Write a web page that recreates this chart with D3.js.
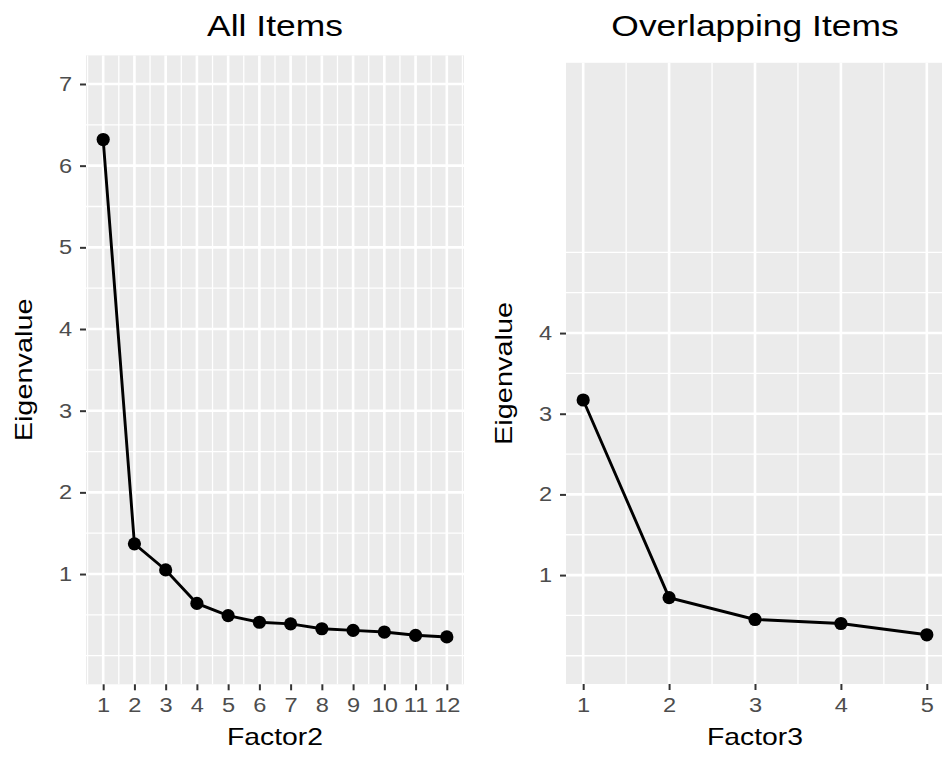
<!DOCTYPE html>
<html>
<head>
<meta charset="utf-8">
<script src="https://cdn.jsdelivr.net/npm/d3@7"></script>
<style>
  body { margin: 0; background: #fff; }
  text { font-family: "Liberation Sans", Arial, sans-serif; }
</style>
</head>
<body>
<div id="chart"></div>
<script>
const svgWidth = 942;
const svgHeight = 764;

// the source image is a little wider than tall, so text runs long
const stretch = 1.18;

// values
const allFactors = [1, 2, 3, 4, 5, 6, 7, 8, 9, 10, 11, 12];
const allEigen = [6.32, 1.37, 1.05, 0.64, 0.49, 0.41, 0.39, 0.33, 0.31, 0.29, 0.25, 0.23];
const allYTicks = [1, 2, 3, 4, 5, 6, 7];

const overlapFactors = [1, 2, 3, 4, 5];
const overlapEigen = [3.17, 0.72, 0.45, 0.40, 0.26];
const overlapYTicks = [1, 2, 3, 4];

const svg = d3.select("#chart")
  .append("svg")
  .attr("width", svgWidth)
  .attr("height", svgHeight);

function widen(sel) {
  sel.each(function() {
    const len = this.getComputedTextLength();
    d3.select(this)
      .attr("textLength", len * stretch)
      .attr("lengthAdjust", "spacingAndGlyphs");
  });
}

function drawPanel(opts) {
  const { left, right, top, bottom, factors, eigen, yTicks, yMinor, xMinor,
          title, xTitle, yTitleX } = opts;

  const xDom = [factors[0], factors[factors.length - 1]];
  const xPad = (xDom[1] - xDom[0]) * 0.05;
  const x = d3.scaleLinear()
    .domain([xDom[0] - xPad, xDom[1] + xPad])
    .range([left, right]);

  // ylim(0, 7) plus default expansion
  const y = d3.scaleLinear()
    .domain([-0.35, 7.35])
    .range([bottom, top]);

  const g = svg.append("g");

  g.append("rect")
    .attr("x", left)
    .attr("y", top)
    .attr("width", right - left)
    .attr("height", bottom - top)
    .attr("fill", "#EBEBEB");

  // minor grid
  g.selectAll(".ymin")
    .data(yMinor)
    .enter()
    .append("line")
    .attr("x1", left).attr("x2", right)
    .attr("y1", d => y(d)).attr("y2", d => y(d))
    .attr("stroke", "#fff").attr("stroke-width", 1.3);

  g.selectAll(".xmin")
    .data(xMinor)
    .enter()
    .append("line")
    .attr("y1", top).attr("y2", bottom)
    .attr("x1", d => x(d)).attr("x2", d => x(d))
    .attr("stroke", "#fff").attr("stroke-width", 1.3);

  // major grid
  g.selectAll(".ymaj")
    .data(yTicks)
    .enter()
    .append("line")
    .attr("x1", left).attr("x2", right)
    .attr("y1", d => y(d)).attr("y2", d => y(d))
    .attr("stroke", "#fff").attr("stroke-width", 2.6);

  g.selectAll(".xmaj")
    .data(factors)
    .enter()
    .append("line")
    .attr("y1", top).attr("y2", bottom)
    .attr("x1", d => x(d)).attr("x2", d => x(d))
    .attr("stroke", "#fff").attr("stroke-width", 2.6);

  // axes
  const leftAxis = d3.axisLeft(y)
    .tickValues(yTicks)
    .tickFormat(d3.format("d"))
    .tickSize(6)
    .tickPadding(8);

  const bottomAxis = d3.axisBottom(x)
    .tickValues(factors)
    .tickFormat(d3.format("d"))
    .tickSize(6)
    .tickPadding(8);

  const yAxis = g.append("g")
    .attr("transform", `translate(${left}, 0)`)
    .call(leftAxis);

  const xAxis = g.append("g")
    .attr("transform", `translate(0, ${bottom})`)
    .call(bottomAxis);

  [xAxis, yAxis].forEach(a => {
    a.select(".domain").remove();
    a.selectAll(".tick line").attr("stroke", "#333").attr("stroke-width", 2);
    a.selectAll(".tick text")
      .attr("fill", "#4D4D4D")
      .style("font-size", "20px")
      .call(widen);
  });

  // line + points
  const line = d3.line()
    .x((d, i) => x(factors[i]))
    .y(d => y(d));

  g.append("path")
    .datum(eigen)
    .attr("d", line)
    .attr("fill", "none")
    .attr("stroke", "#000")
    .attr("stroke-width", 2.9);

  g.selectAll(".pt")
    .data(eigen)
    .enter()
    .append("circle")
    .attr("cx", (d, i) => x(factors[i]))
    .attr("cy", d => y(d))
    .attr("r", 6.6)
    .attr("fill", "#000");

  // titles
  g.append("text")
    .attr("x", (left + right) / 2)
    .attr("y", 36)
    .attr("text-anchor", "middle")
    .style("font-size", "30px")
    .attr("fill", "#000")
    .text(title)
    .call(widen);

  g.append("text")
    .attr("x", (left + right) / 2)
    .attr("y", 745)
    .attr("text-anchor", "middle")
    .style("font-size", "24px")
    .attr("fill", "#000")
    .text(xTitle)
    .call(widen);

  g.append("text")
    .attr("transform", "rotate(-90)")
    .attr("x", -(top + bottom) / 2)
    .attr("y", yTitleX)
    .attr("text-anchor", "middle")
    .style("font-size", "24.5px")
    .attr("fill", "#000")
    .text("Eigenvalue")
    .call(widen);
}

drawPanel({
  left: 86, right: 464, top: 55.4, bottom: 684.3,
  factors: allFactors,
  eigen: allEigen,
  yTicks: allYTicks,
  yMinor: [0, 0.5, 1.5, 2.5, 3.5, 4.5, 5.5, 6.5],
  xMinor: d3.range(0.5, 13, 1),
  title: "All Items",
  xTitle: "Factor2",
  yTitleX: 32
});

drawPanel({
  left: 566, right: 944, top: 62.8, bottom: 684,
  factors: overlapFactors,
  eigen: overlapEigen,
  yTicks: overlapYTicks,
  yMinor: [0, 0.5, 1.5, 2.5, 3.5, 4.5, 5],
  xMinor: [1.5, 2.5, 3.5, 4.5],
  title: "Overlapping Items",
  xTitle: "Factor3",
  yTitleX: 512
});
</script>
</body>
</html>
